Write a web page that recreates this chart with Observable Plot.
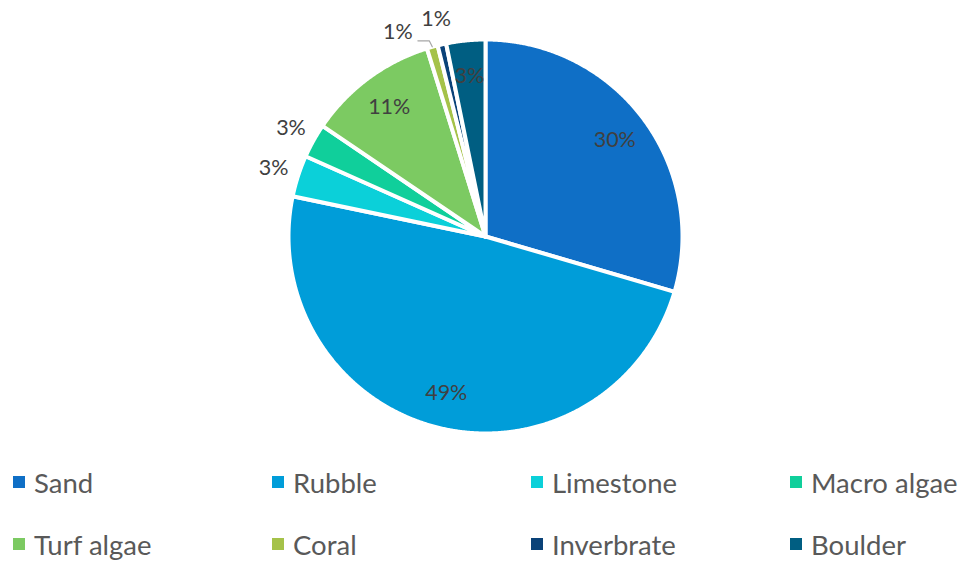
<!DOCTYPE html>
<html>
<head>
<meta charset="utf-8">
<script src="https://cdn.jsdelivr.net/npm/d3@7"></script>
<script src="https://cdn.jsdelivr.net/npm/@observablehq/plot@0.6"></script>
<style>
  html, body { margin: 0; padding: 0; background: #ffffff; }
  #chart { width: 963px; height: 561px; position: relative; font-family: Lato, "Open Sans", sans-serif; }
  #legend { display: grid; grid-template-columns: repeat(4, 259px); grid-auto-rows: 62px; padding-left: 13px; padding-top: 1px; }
  .item { display: flex; align-items: center; font-size: 27.5px; color: #595959; white-space: nowrap; }
  .swatch { width: 12px; height: 12px; margin-right: 9px; flex: none; }
</style>
</head>
<body>
<div id="chart"></div>
<script>
// ---- data ----
const categories = ["Sand", "Rubble", "Limestone", "Macro algae", "Turf algae", "Coral", "Inverbrate", "Boulder"];
const values = [29.5, 48.7, 3.4, 2.8, 10.7, 0.9, 0.7, 3.2];
const pctLabels = ["30%", "49%", "3%", "3%", "11%", "1%", "1%", "3%"];
const labelPlacement = ["inside", "inside", "outside", "outside", "inside", "outside", "outside", "inside"];
const colors = ["#0F6FC6", "#009DD9", "#0BD0D9", "#10CF9B", "#7CCA62", "#A5C249", "#0A4278", "#005E82"];

// ---- layout ----
const W = 963, H = 450;
const R = 197;               // pixel radius of the unit circle
const CX = 485, CY = 236;    // pie centre in pixels

const data = categories.map((c, i) => ({cat: c, value: values[i], label: pctLabels[i], place: labelPlacement[i]}));
const arcs = d3.pie().sort(null).value(d => d.value)(data);

// slice polygons (unit circle, y up, angle clockwise from top)
const slicePts = [];
for (const a of arcs) {
  const n = Math.max(2, Math.ceil((a.endAngle - a.startAngle) / 0.005));
  slicePts.push({cat: a.data.cat, x: 0, y: 0});
  for (let k = 0; k <= n; ++k) {
    const t = a.startAngle + (a.endAngle - a.startAngle) * k / n;
    slicePts.push({cat: a.data.cat, x: Math.sin(t), y: Math.cos(t)});
  }
  slicePts.push({cat: a.data.cat, x: 0, y: 0});
}

// labels
const labels = arcs.map(a => {
  const mid = (a.startAngle + a.endAngle) / 2;
  const rr = a.data.place === "inside" ? 0.82 : 1.13;
  return {cat: a.data.cat, text: a.data.label, place: a.data.place, mid, ang: mid, rr};
});
// de-overlap outside labels: push earlier label counter-clockwise
const outside = labels.filter(l => l.place === "outside");
const px = l => [CX + Math.sin(l.ang) * l.rr * R, CY - Math.cos(l.ang) * l.rr * R];
for (let i = outside.length - 2; i >= 0; --i) {
  const a = outside[i], b = outside[i + 1];
  let guard = 0;
  while (guard++ < 200) {
    const [x1, y1] = px(a), [x2, y2] = px(b);
    if (Math.hypot(x2 - x1, y2 - y1) >= 40) break;
    a.ang -= 0.5 * Math.PI / 180;
  }
}
labels.forEach(l => { l.x = Math.sin(l.ang) * l.rr; l.y = Math.cos(l.ang) * l.rr; });

// leader lines for shifted labels
const leaders = [];
labels.filter(l => l.place === "outside" && Math.abs(l.ang - l.mid) > 1e-6).forEach(l => {
  const sx = l.x + 20 / R, sy = l.y - 9 / R;
  const ex = Math.sin(l.mid), ey = Math.cos(l.mid);
  leaders.push({cat: l.cat, x: sx, y: sy});
  leaders.push({cat: l.cat, x: ex - 3 / R, y: sy});
  leaders.push({cat: l.cat, x: ex, y: ey});
});

const plot = Plot.plot({
  width: W,
  height: H,
  marginLeft: CX - R,
  marginRight: W - CX - R,
  marginTop: CY - R,
  marginBottom: H - CY - R,
  x: {domain: [-1, 1], axis: null},
  y: {domain: [-1, 1], axis: null},
  color: {domain: categories, range: colors},
  style: {fontFamily: "Lato, 'Open Sans', sans-serif", background: "#ffffff", overflow: "visible"},
  marks: [
    Plot.line(slicePts, {x: "x", y: "y", z: "cat", fill: "cat", stroke: "#ffffff", strokeWidth: 4, curve: "linear"}),
    Plot.line(leaders, {x: "x", y: "y", z: "cat", stroke: "#a6a6a6", strokeWidth: 1.2, curve: "linear"}),
    Plot.text(labels, {x: "x", y: "y", text: "text", fill: "#404040", fontSize: 21.5})
  ]
});

const chart = document.getElementById("chart");
chart.appendChild(plot);

const legend = document.createElement("div");
legend.id = "legend";
categories.forEach((c, i) => {
  const item = document.createElement("div");
  item.className = "item";
  const sw = document.createElement("span");
  sw.className = "swatch";
  sw.style.background = colors[i];
  const tx = document.createElement("span");
  tx.textContent = c;
  item.appendChild(sw);
  item.appendChild(tx);
  legend.appendChild(item);
});
chart.appendChild(legend);
</script>
</body>
</html>
